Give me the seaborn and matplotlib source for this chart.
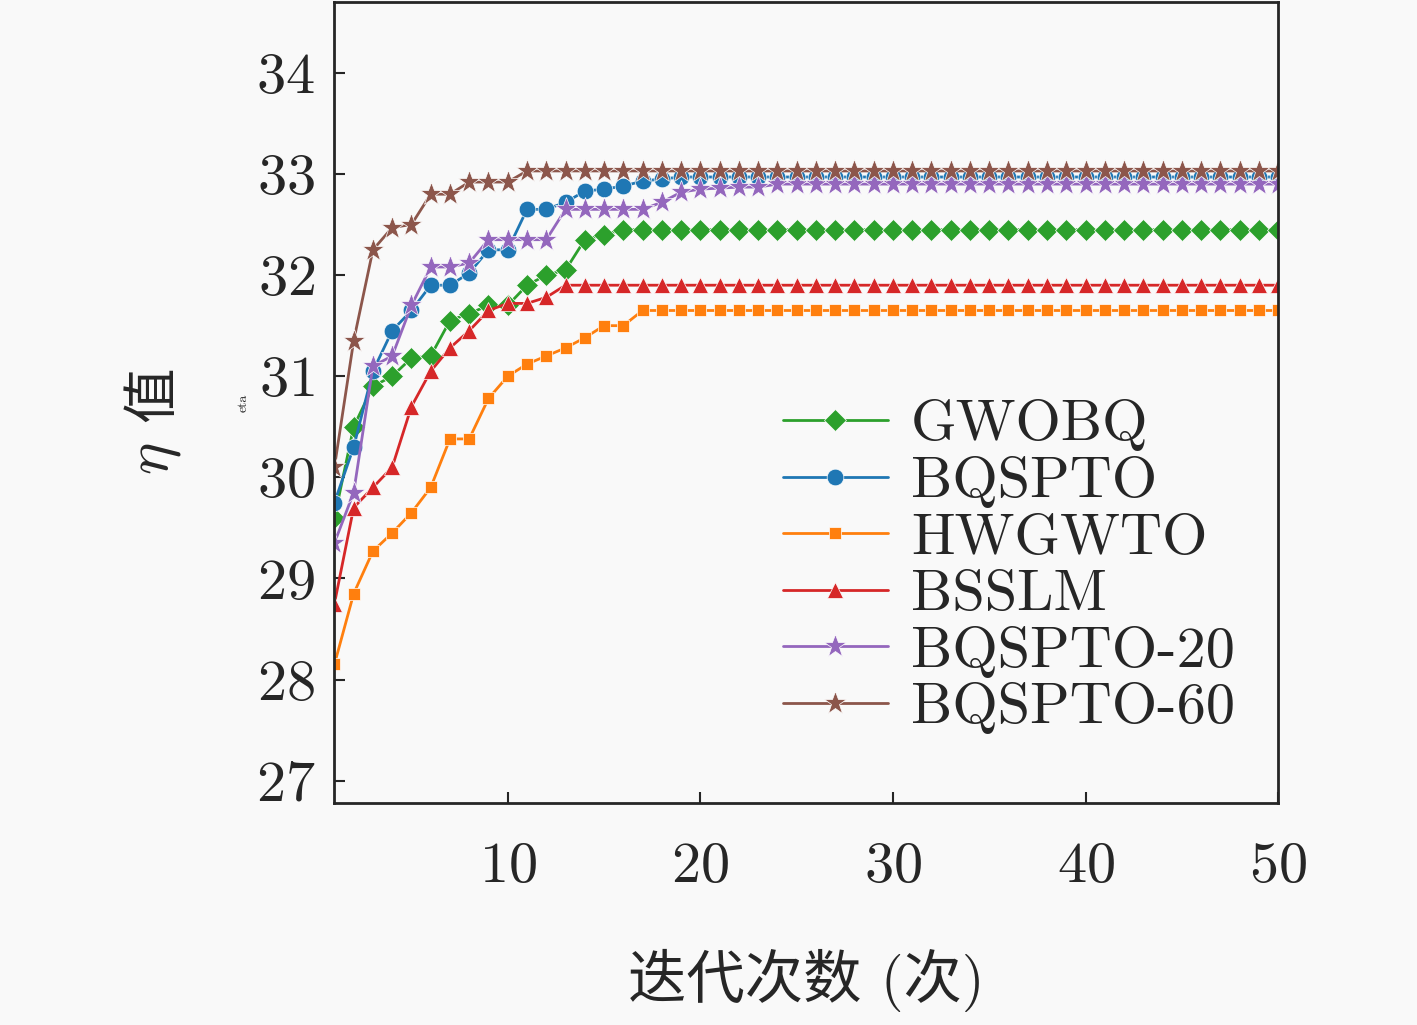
import numpy as np
import pandas as pd
import matplotlib
matplotlib.use("Agg")
import matplotlib.pyplot as plt
import seaborn as sns

iters = list(range(1, 51))
gwobq = [29.6, 30.5, 30.9, 31.0, 31.18, 31.2, 31.55, 31.62, 31.7, 31.7, 31.9, 32.0, 32.05,
         32.35, 32.4] + [32.45] * 35
bqspto = [29.75, 30.3, 31.05, 31.45, 31.65, 31.9, 31.9, 32.02, 32.25, 32.25, 32.65, 32.65,
          32.72, 32.83, 32.85, 32.88, 32.93, 32.95] + [32.97] * 32
hwgwto = [28.15, 28.85, 29.27, 29.45, 29.65, 29.9, 30.38, 30.38, 30.78, 31.0, 31.12, 31.2,
          31.28, 31.38, 31.5, 31.5] + [31.65] * 34
bsslm = [28.75, 29.7, 29.9, 30.1, 30.7, 31.05, 31.28, 31.45, 31.65, 31.72, 31.72,
         31.78] + [31.9] * 38
bqspto20 = [29.35, 29.85, 31.1, 31.2, 31.7, 32.08, 32.08, 32.12, 32.35, 32.35, 32.35, 32.35,
            32.65, 32.65, 32.65, 32.65, 32.65, 32.72, 32.82, 32.85, 32.86, 32.87,
            32.87] + [32.9] * 27
bqspto60 = [30.1, 31.35, 32.25, 32.47, 32.5, 32.8, 32.8, 32.92, 32.92, 32.92] + [33.03] * 40

names = ["GWOBQ", "BQSPTO", "HWGWTO", "BSSLM", "BQSPTO-20", "BQSPTO-60"]
series = [gwobq, bqspto, hwgwto, bsslm, bqspto20, bqspto60]
colors = ["#2ca02c", "#1f77b4", "#ff7f0e", "#d62728", "#9467bd", "#8c564b"]
markers = ["D", "o", "s", "^", "*", "*"]
msizes = [11, 12, 9, 12, 17, 17]

df = pd.concat([pd.DataFrame({"iter": iters, "eta": s, "method": n})
                for n, s in zip(names, series)])

sns.set_style("ticks")
plt.rcParams['font.family'] = ['cmr10', 'Noto Sans CJK SC']
plt.rcParams['mathtext.fontset'] = 'cm'
plt.rcParams['axes.formatter.use_mathtext'] = True

fig = plt.figure(figsize=(14.17, 10.25), dpi=100)
fig.patch.set_facecolor("#f9f9f9")
ax = fig.add_axes([0.236, 0.2166, 0.666, 0.7814])
ax.set_facecolor("#f9f9f9")

sns.lineplot(data=df, x="iter", y="eta", hue="method", style="method",
             palette=dict(zip(names, colors)), markers=dict(zip(names, markers)),
             dashes=False, linewidth=2, markersize=11, markeredgewidth=0.5, ax=ax)
for line, ms in zip(ax.lines, msizes):
    line.set_markersize(ms)

ax.set_xlim(1, 50)
ax.set_ylim(26.78, 34.7)
ax.set_xticks([10, 20, 30, 40, 50])
ax.set_yticks(range(27, 35))
ax.tick_params(direction="in", labelsize=42, length=8, width=1.5)
ax.tick_params(axis="x", pad=28)
ax.tick_params(axis="y", pad=14)
for sp in ax.spines.values():
    sp.set_linewidth(2)
ax.set_xlabel("迭代次数 (次)", fontsize=42, labelpad=40)
ax.text(-0.19, 0.43, r"$\eta$", transform=ax.transAxes, rotation=90,
        fontsize=44, ha="center", va="center")
ax.text(-0.19, 0.51, "值", transform=ax.transAxes, rotation=90,
        fontsize=40, ha="center", va="center")

leg = ax.legend(frameon=False, fontsize=42, loc="lower right",
                bbox_to_anchor=(1.01, 0.02), handlelength=1.8, handletextpad=0.4,
                labelspacing=0.08)
for h, ms in zip(leg.legend_handles, msizes):
    h.set_linewidth(2)
    h.set_markersize(ms)

fig.savefig("out.png", dpi=100, facecolor=fig.get_facecolor())
